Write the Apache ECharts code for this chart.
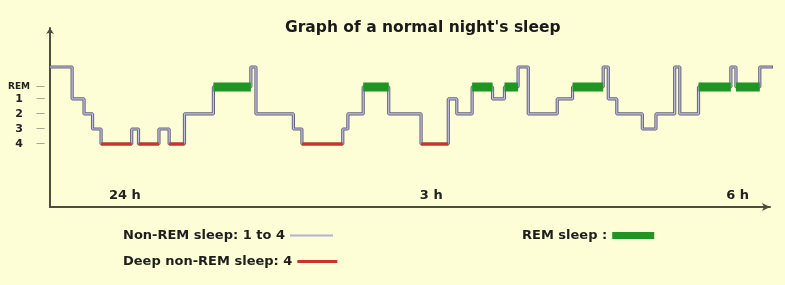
<!DOCTYPE html>
<html>
<head>
<meta charset="utf-8">
<script src="https://cdn.jsdelivr.net/npm/echarts@6/dist/echarts.min.js"></script>
<style>
html, body { margin: 0; padding: 0; background: #fdfdd6; }
#sleep { width: 785px; height: 285px; }
</style>
</head>
<body>
<div id="sleep"></div>
<script>
// stages and their depth on the (inverted) y axis
var stageNames = ['W', 'REM', '1', '2', '3', '4'];
var stageDepth = [-1.13, 0.2, 1, 2, 3, 4];

// hypnogram: minutes from midnight where each stage starts
var stepStart = [-44, -31, -24, -19, -14, 4, 8, 20, 26, 35,
	52, 74, 77, 99, 104, 128, 131, 140, 155, 174,
	190, 195, 204, 216, 223, 231, 237, 254, 263, 281,
	284, 289, 304, 312, 323, 326, 337, 356, 359, 373];
var stepStage = ['W', '1', '2', '3', '4', '3', '4', '3', '4', '2',
	'REM', 'W', '2', '3', '4', '3', '2', 'REM', '2', '4',
	'1', '2', 'REM', '1', 'REM', 'W', '2', '1', 'REM', 'W',
	'1', '2', '3', '2', 'W', '2', 'REM', 'W', 'REM', 'W'];
var endTime = 381;

var yTickValues = [0.2, 1, 2, 3, 4];
var yTickLabels = ['REM', '1', '2', '3', '4'];
var xTickValues = [0, 180, 360];
var xTickLabels = ['24 h', '3 h', '6 h'];

var FONT = 'DejaVu Sans';

function depth(s) {
	return stageDepth[stageNames.indexOf(s)];
}

var linePts = stepStart.map(function(t, i) { return [t, depth(stepStage[i])]; });
linePts.push([endTime, depth(stepStage[stepStage.length - 1])]);

function segments(stage) {
	var out = [];
	for (var i = 0; i < stepStart.length; i++) {
		if (stepStage[i] === stage) {
			var end = i + 1 < stepStart.length ? stepStart[i + 1] : endTime;
			out.push([[stepStart[i], depth(stage)], [end, depth(stage)]]);
		}
	}
	return out;
}

var series = [
	{
		name: 'outline', type: 'line', step: 'end', data: linePts, symbol: 'none', clip: false,
		lineStyle: { color: '#66647c', width: 3.2 }, z: 2
	},
	{
		name: 'Non-REM sleep: 1 to 4', type: 'line', step: 'end', data: linePts, symbol: 'none', clip: false,
		lineStyle: { color: '#c4c0e6', width: 1.2 }, itemStyle: { color: '#b4b0d8' }, z: 3
	}
];
segments('4').forEach(function(seg) {
	series.push({
		name: 'Deep non-REM sleep: 4', type: 'line', data: seg, symbol: 'none',
		lineStyle: { color: '#cc3324', width: 3.2 }, itemStyle: { color: '#cc3324' }, z: 4
	});
});
segments('REM').forEach(function(seg) {
	series.push({
		name: 'REM sleep :', type: 'line', data: seg, symbol: 'none',
		lineStyle: { color: '#1f9624', width: 9, cap: 'butt' }, itemStyle: { color: '#1f9624' }, z: 4
	});
});

var legendText = { fontFamily: FONT, fontWeight: 'bold', fontSize: 13, color: '#1e1e1e' };

var myChart = echarts.init(document.getElementById('sleep'));
myChart.setOption({
	backgroundColor: '#fdfdd6',
	animation: false,
	title: {
		text: "Graph of a normal night's sleep",
		left: 285, top: 20, padding: 0,
		textStyle: { fontFamily: FONT, fontWeight: 'bold', fontSize: 15.5, color: '#1a1a1a' }
	},
	legend: [
		{
			data: [{ name: 'Non-REM sleep: 1 to 4', icon: 'rect' }], left: 123, top: 229, padding: 0, align: 'right',
			itemWidth: 43, itemHeight: 2, selectedMode: false, textStyle: legendText
		},
		{
			data: [{ name: 'Deep non-REM sleep: 4', icon: 'rect' }], left: 123, top: 255, padding: 0, align: 'right',
			itemWidth: 40, itemHeight: 3, selectedMode: false, textStyle: legendText
		},
		{
			data: [{ name: 'REM sleep :', icon: 'rect' }], left: 522, top: 229, padding: 0, align: 'right',
			itemWidth: 42, itemHeight: 7, selectedMode: false, textStyle: legendText
		}
	],
	grid: { left: 50, right: 15, top: 28, bottom: 78 },
	xAxis: {
		type: 'value', min: -44, max: 379,
		splitLine: { show: false },
		axisTick: { show: false },
		axisLine: { onZero: false, lineStyle: { color: '#4d4d40', width: 2 }, symbol: ['none', 'arrow'], symbolSize: [6, 8] },
		axisLabel: {
			inside: true, margin: 5, customValues: xTickValues,
			fontFamily: FONT, fontWeight: 'bold', fontSize: 13, color: '#222',
			formatter: function(v) { return xTickLabels[xTickValues.indexOf(v)]; }
		}
	},
	yAxis: {
		type: 'value', inverse: true, min: -3.73, max: 8.2,
		splitLine: { show: false },
		axisTick: { show: false },
		axisLine: { onZero: false, lineStyle: { color: '#4d4d40', width: 2 }, symbol: ['none', 'arrow'], symbolSize: [6, 6] },
		axisLabel: {
			margin: 5, customValues: yTickValues,
			formatter: function(v) {
				var lab = yTickLabels[yTickValues.indexOf(v)];
				return '{' + (lab === 'REM' ? 'r' : 'n') + '|' + lab + '}{g| }{d|—}';
			},
			rich: {
				r: { width: 26, align: 'center', fontFamily: FONT, fontWeight: 'bold', fontSize: 9, color: '#222' },
				n: { width: 26, align: 'center', fontFamily: FONT, fontWeight: 'bold', fontSize: 11, color: '#222' },
				g: { width: 4, fontSize: 9 },
				d: { fontFamily: FONT, fontSize: 9, color: '#777' }
			}
		}
	},
	series: series
}, true);
</script>
</body>
</html>
